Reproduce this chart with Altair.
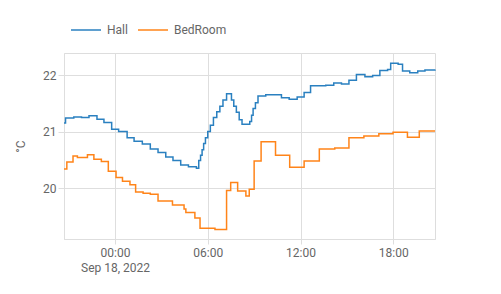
import altair as alt
import pandas as pd

series_names = ["Hall", "BedRoom"]
series_colors = ["#2a80c0", "#ff8419"]

hall_times = [
    "2022-09-17T20:42", "2022-09-17T20:48", "2022-09-17T21:20", "2022-09-17T21:50",
    "2022-09-17T22:19", "2022-09-17T22:50", "2022-09-17T23:17", "2022-09-17T23:47",
    "2022-09-18T00:14", "2022-09-18T00:47", "2022-09-18T01:14", "2022-09-18T01:46",
    "2022-09-18T02:17", "2022-09-18T02:47", "2022-09-18T03:17", "2022-09-18T03:45",
    "2022-09-18T04:15", "2022-09-18T04:45", "2022-09-18T05:16", "2022-09-18T05:25",
    "2022-09-18T05:32", "2022-09-18T05:38", "2022-09-18T05:44", "2022-09-18T05:51",
    "2022-09-18T06:00", "2022-09-18T06:10", "2022-09-18T06:22", "2022-09-18T06:35",
    "2022-09-18T06:47", "2022-09-18T06:59", "2022-09-18T07:13", "2022-09-18T07:32",
    "2022-09-18T07:41", "2022-09-18T07:51", "2022-09-18T08:02", "2022-09-18T08:13",
    "2022-09-18T08:43", "2022-09-18T08:50", "2022-09-18T08:56", "2022-09-18T09:05",
    "2022-09-18T09:15", "2022-09-18T09:45", "2022-09-18T10:46", "2022-09-18T11:16",
    "2022-09-18T11:47", "2022-09-18T12:14", "2022-09-18T12:39", "2022-09-18T13:38",
    "2022-09-18T14:09", "2022-09-18T14:39", "2022-09-18T15:08", "2022-09-18T15:37",
    "2022-09-18T16:10", "2022-09-18T16:40", "2022-09-18T17:08", "2022-09-18T17:38",
    "2022-09-18T17:50", "2022-09-18T18:19", "2022-09-18T18:36", "2022-09-18T19:04",
    "2022-09-18T19:35", "2022-09-18T20:03", "2022-09-18T20:42",
]
hall_values = [
    21.15, 21.24, 21.26, 21.25,
    21.28, 21.22, 21.16, 21.04,
    21.00, 20.89, 20.83, 20.78,
    20.69, 20.63, 20.55, 20.49,
    20.41, 20.38, 20.35, 20.49,
    20.58, 20.68, 20.79, 20.89,
    21.00, 21.11, 21.25, 21.35,
    21.45, 21.56, 21.67, 21.56,
    21.45, 21.34, 21.21, 21.13,
    21.18, 21.29, 21.41, 21.51,
    21.63, 21.65, 21.60, 21.57,
    21.61, 21.69, 21.81, 21.82,
    21.86, 21.84, 21.91, 22.01,
    21.97, 21.99, 22.08, 22.10,
    22.21, 22.19, 22.07, 22.04,
    22.07, 22.09, 22.10,
]

bed_times = [
    "2022-09-17T20:42", "2022-09-17T20:53", "2022-09-17T21:17", "2022-09-17T21:34",
    "2022-09-17T22:13", "2022-09-17T22:38", "2022-09-17T23:07", "2022-09-17T23:34",
    "2022-09-18T00:04", "2022-09-18T00:29", "2022-09-18T00:58", "2022-09-18T01:20",
    "2022-09-18T01:49", "2022-09-18T02:17", "2022-09-18T02:47", "2022-09-18T03:43",
    "2022-09-18T04:28", "2022-09-18T04:35", "2022-09-18T05:10", "2022-09-18T05:30",
    "2022-09-18T06:28", "2022-09-18T07:13", "2022-09-18T07:29", "2022-09-18T07:56",
    "2022-09-18T08:28", "2022-09-18T08:41", "2022-09-18T09:00", "2022-09-18T09:27",
    "2022-09-18T10:23", "2022-09-18T11:18", "2022-09-18T12:14", "2022-09-18T13:13",
    "2022-09-18T14:13", "2022-09-18T15:08", "2022-09-18T16:06", "2022-09-18T17:04",
    "2022-09-18T17:59", "2022-09-18T18:55", "2022-09-18T19:41", "2022-09-18T20:42",
]
bed_values = [
    20.34, 20.46, 20.57, 20.54,
    20.59, 20.51, 20.47, 20.30,
    20.19, 20.12, 20.06, 19.93,
    19.91, 19.89, 19.77, 19.70,
    19.63, 19.57, 19.47, 19.29,
    19.27, 19.96, 20.10, 19.95,
    19.86, 19.98, 20.48, 20.82,
    20.58, 20.37, 20.48, 20.69,
    20.71, 20.89, 20.92, 20.96,
    20.99, 20.90, 21.01, 21.01,
]

y_ticks = [20, 21, 22]
y_domain = [19.1, 22.39]

df = pd.concat([
    pd.DataFrame({"time": hall_times, "value": hall_values, "series": series_names[0]}),
    pd.DataFrame({"time": bed_times, "value": bed_values, "series": series_names[1]}),
])

grid = "#dedede"
txt = "#666666"

x_domain = [
    alt.DateTime(year=2022, month=9, date=17, hours=20, minutes=42),
    alt.DateTime(year=2022, month=9, date=18, hours=20, minutes=42),
]
x_ticks = [alt.DateTime(year=2022, month=9, date=18, hours=h) for h in [0, 6, 12, 18]]

chart = alt.Chart(df).mark_line(interpolate="step-after", strokeWidth=1.5).encode(
    x=alt.X("time:T", title=None,
            scale=alt.Scale(domain=x_domain, nice=False),
            axis=alt.Axis(values=x_ticks, grid=True, gridColor=grid, domainColor=grid,
                          tickColor=grid, tickSize=5, labelPadding=3,
                          labelColor=txt, labelFontSize=12, labelLineHeight=15,
                          labelOverlap=False, labelFlush=False,
                          labelExpr="hours(datum.value) == 0 ? [timeFormat(datum.value, '%H:%M'), timeFormat(datum.value, '%b %-d, %Y')] : timeFormat(datum.value, '%H:%M')")),
    y=alt.Y("value:Q", title="°C",
            scale=alt.Scale(domain=y_domain, nice=False, zero=False),
            axis=alt.Axis(values=y_ticks, grid=True, gridColor=grid, domainColor=grid,
                          tickColor=grid, tickSize=6, labelPadding=2,
                          labelColor=txt, labelFontSize=12,
                          titleColor=txt, titleFontSize=12, titleFontWeight="normal",
                          titlePadding=15)),
    color=alt.Color("series:N", sort=series_names, title=None,
                    scale=alt.Scale(domain=series_names, range=series_colors),
                    legend=alt.Legend(orient="none", legendX=6, legendY=-39,
                                      direction="horizontal", symbolType="stroke",
                                      symbolSize=900, symbolStrokeWidth=1.5,
                                      labelColor=txt, labelFontSize=12, labelOffset=5,
                                      columnPadding=7, padding=0)),
).properties(
    width=371, height=186,
    padding={"left": 64, "top": 53, "right": 66, "bottom": 55},
    autosize=alt.AutoSizeParams(type="none"),
    background="#ffffff",
).configure_view(stroke=None).configure(font="Roboto")

chart.save("out.html", embed_options={"renderer": "svg", "actions": False})
